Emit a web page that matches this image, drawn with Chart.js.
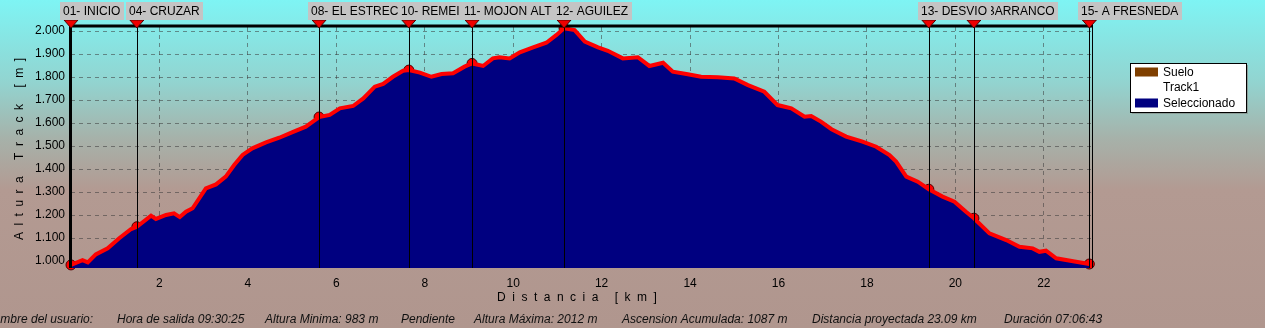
<!DOCTYPE html>
<html>
<head>
<meta charset="utf-8">
<script src="https://cdn.jsdelivr.net/npm/chart.js@4.4.1/dist/chart.umd.min.js"></script>
<style>
html, body { margin: 0; padding: 0; overflow: hidden; background: #b0968e; }
canvas { display: block; }
</style>
</head>
<body>
<canvas id="perfil" width="1265" height="328"></canvas>
<script>
// Track profile: distance (km) and altitude (m)
const distKm = [0.00, 0.26, 0.38, 0.56, 0.83, 1.09, 1.36, 1.49, 1.81, 1.92, 2.15, 2.33, 2.46, 2.60, 2.75,
    3.05, 3.28, 3.50, 3.69, 3.88, 4.10, 4.41, 4.71, 5.01, 5.31, 5.61, 5.85, 6.08, 6.38, 6.61, 6.87, 7.06,
    7.28, 7.51, 7.64, 7.89, 8.15, 8.38, 8.64, 8.90, 9.07, 9.32, 9.54, 9.69, 9.92, 10.15, 10.45, 10.75,
    10.98, 11.15, 11.39, 11.62, 11.92, 12.14, 12.48, 12.82, 13.08, 13.39, 13.61, 13.95, 14.25, 14.63,
    15.00, 15.31, 15.68, 15.98, 16.29, 16.59, 16.74, 16.96, 17.20, 17.53, 17.90, 18.21, 18.51, 18.66,
    18.89, 19.15, 19.40, 19.71, 19.98, 20.24, 20.42, 20.77, 21.15, 21.45, 21.75, 21.90, 22.05, 22.28,
    22.73, 23.03];
const altM = [983, 1004, 994, 1029, 1055, 1099, 1139, 1149, 1197, 1183, 1200, 1207, 1191, 1214, 1229,
    1316, 1333, 1367, 1417, 1461, 1490, 1516, 1536, 1560, 1584, 1626, 1635, 1664, 1674, 1707, 1758, 1770,
    1801, 1827, 1830, 1819, 1801, 1813, 1816, 1845, 1859, 1848, 1881, 1886, 1881, 1907, 1929, 1949,
    1983, 2012, 2004, 1954, 1929, 1914, 1881, 1886, 1848, 1862, 1823, 1812, 1801, 1799,
    1794, 1765, 1736, 1678, 1664, 1627, 1630, 1606, 1573, 1541, 1519, 1497, 1461, 1432,
    1367, 1345, 1312, 1280, 1258, 1214, 1186, 1120, 1091, 1062, 1055, 1040, 1045, 1012,
    997, 987];

// Waypoints
const wpNames = ['01- INICIO', '04- CRUZAR', '08- EL ESTREC', '10- REMEI', '11- MOJON ALT', '12- AGUILEZ',
    '13- DESVIO', '14- BARRANCO', '15- A FRESNEDA'];
const wpKm = [0.00, 1.49, 5.61, 7.64, 9.07, 11.15, 19.40, 20.42, 23.03];
const wpAlt = [983, 1149, 1626, 1830, 1859, 2012, 1312, 1186, 987];

// Axes
const yTicks = [1000, 1100, 1200, 1300, 1400, 1500, 1600, 1700, 1800, 1900, 2000];
const xTicks = [2, 4, 6, 8, 10, 12, 14, 16, 18, 20, 22];
const xTitle = 'Distancia [km]';
const yTitle = 'Altura Track [m]';

// Legend
const legendLabels = ['Suelo', 'Track1', 'Seleccionado'];
const legendColors = ['#7f3f00', null, '#000080'];

// Footer summary
const footerParts = ['Nombre del usuario:', 'Hora de salida 09:30:25', 'Altura Minima: 983 m', 'Pendiente',
    'Altura Máxima: 2012 m', 'Ascension Acumulada: 1087 m', 'Distancia proyectada 23.09 km', 'Duración 07:06:43'];
const footerX = [-15, 117, 265, 401, 474, 622, 812, 1004];

const FONT = '"Liberation Sans", Arial, sans-serif';
const labelOrder = [0, 1, 2, 3, 4, 5, 7, 6, 8];

function spacedText(ctx, text, cx, cy, gap) {
    let w = 0;
    for (const ch of text) w += ctx.measureText(ch).width + gap;
    w -= gap;
    let x = cx - w / 2;
    for (const ch of text) {
        ctx.fillText(ch, x, cy);
        x += ctx.measureText(ch).width + gap;
    }
}

const decor = {
    id: 'decor',
    beforeDraw(chart) {
        const { ctx, width, height } = chart;
        const g = ctx.createLinearGradient(0, 0, 0, height);
        g.addColorStop(0, '#7ef4f4');
        g.addColorStop(0.25, '#92d4d0');
        g.addColorStop(0.42, '#a6b2aa');
        g.addColorStop(0.58, '#b39a92');
        g.addColorStop(1, '#b0968e');
        ctx.save();
        ctx.fillStyle = g;
        ctx.fillRect(0, 0, width, height);
        ctx.restore();
    },
    afterDatasetDraw(chart, args) {
        if (args.index !== 0) return;
        const { ctx, chartArea: a, scales: { x } } = chart;
        ctx.save();
        ctx.strokeStyle = '#000';
        ctx.lineWidth = 1;
        wpKm.forEach(k => {
            const px = Math.round(x.getPixelForValue(k)) + 0.5;
            ctx.beginPath();
            ctx.moveTo(px, a.top);
            ctx.lineTo(px, a.bottom);
            ctx.stroke();
        });
        ctx.restore();
    },
    afterDraw(chart) {
        const { ctx, chartArea: a, scales: { x } } = chart;
        ctx.save();

        // frame: thick left and top, thin right
        ctx.strokeStyle = '#000';
        ctx.lineWidth = 3;
        ctx.beginPath();
        ctx.moveTo(a.left - 0.5, a.bottom);
        ctx.lineTo(a.left - 0.5, a.top - 1);
        ctx.lineTo(a.right + 1, a.top - 1);
        ctx.stroke();
        ctx.lineWidth = 1;
        ctx.beginPath();
        ctx.moveTo(a.right + 0.5, a.top);
        ctx.lineTo(a.right + 0.5, a.bottom);
        ctx.stroke();

        // waypoint triangles
        wpKm.forEach(k => {
            const px = x.getPixelForValue(k);
            ctx.beginPath();
            ctx.moveTo(px - 7, 20);
            ctx.lineTo(px + 7, 20);
            ctx.lineTo(px, 28);
            ctx.closePath();
            ctx.fillStyle = '#ee0000';
            ctx.fill();
            ctx.strokeStyle = '#500000';
            ctx.stroke();
        });

        // waypoint labels
        ctx.font = '12px ' + FONT;
        ctx.textBaseline = 'middle';
        ctx.textAlign = 'left';
        labelOrder.forEach(i => {
            const left = Math.round(x.getPixelForValue(wpKm[i])) - 11;
            const w = Math.ceil(ctx.measureText(wpNames[i]).width) + 6;
            ctx.fillStyle = '#c4c4c4';
            ctx.fillRect(left, 2, w, 18);
            ctx.fillStyle = '#000';
            ctx.fillText(wpNames[i], left + 3, 11.5);
        });

        // legend
        const lx = 1130, ly = 63, lw = 116, lh = 49;
        ctx.fillStyle = '#8c9e98';
        ctx.fillRect(lx + 2, ly + 2, lw, lh);
        ctx.fillStyle = '#fff';
        ctx.fillRect(lx, ly, lw, lh);
        ctx.strokeStyle = '#000';
        ctx.strokeRect(lx + 0.5, ly + 0.5, lw, lh);
        legendLabels.forEach((lab, i) => {
            const cy = ly + 9 + i * 15.5;
            if (legendColors[i]) {
                ctx.fillStyle = legendColors[i];
                ctx.fillRect(lx + 5, cy - 4.5, 23, 9);
            }
            ctx.fillStyle = '#000';
            ctx.fillText(lab, lx + 33, cy + 0.5);
        });

        // axis titles
        ctx.fillStyle = '#000';
        ctx.font = '12px ' + FONT;
        spacedText(ctx, xTitle, 577, 298, 6.5);
        ctx.save();
        ctx.translate(20, 149);
        ctx.rotate(-Math.PI / 2);
        spacedText(ctx, yTitle, 0, 0, 6.5);
        ctx.restore();

        // footer
        ctx.font = 'italic 12px ' + FONT;
        ctx.fillStyle = '#111';
        footerParts.forEach((t, i) => ctx.fillText(t, footerX[i], 320));

        ctx.restore();
    }
};

const fmtThousands = v => Math.floor(v / 1000) + '.' + String(v % 1000).padStart(3, '0');

new Chart(document.getElementById('perfil'), {
    type: 'line',
    data: {
        datasets: [{
            label: 'Track1',
            data: distKm.map((d, i) => ({ x: d, y: altM[i] })),
            borderColor: '#ff0000',
            borderWidth: 4,
            backgroundColor: '#000080',
            fill: 'start',
            pointRadius: 0,
            tension: 0,
        }, {
            label: 'Waypoints',
            data: wpKm.map((d, i) => ({ x: d, y: wpAlt[i] })),
            showLine: false,
            pointRadius: 5,
            pointBackgroundColor: '#ff0000',
            pointBorderColor: '#500000',
            pointBorderWidth: 1,
            clip: false,
        }]
    },
    options: {
        responsive: false,
        animation: false,
        devicePixelRatio: 1,
        layout: { padding: { left: 0, top: 27, right: 173, bottom: 0 } },
        plugins: { legend: { display: false }, tooltip: { enabled: false } },
        scales: {
            x: {
                type: 'linear',
                min: 0,
                max: 23.09,
                afterBuildTicks: s => { s.ticks = xTicks.map(v => ({ value: v })); },
                afterFit: s => { s.height = 60; },
                grid: { color: 'rgba(60,60,60,0.55)', drawTicks: false },
                border: { display: false, dash: [4, 4] },
                ticks: {
                    autoSkip: false,
                    maxRotation: 0,
                    padding: 8,
                    color: '#000',
                    font: { family: FONT, size: 12 },
                },
            },
            y: {
                min: 969.6,
                max: 2017.4,
                afterBuildTicks: s => { s.ticks = yTicks.map(v => ({ value: v })); },
                afterFit: s => { s.width = 71; },
                grid: { color: 'rgba(60,60,60,0.55)', drawTicks: false },
                border: { display: false, dash: [4, 4] },
                ticks: {
                    padding: 6,
                    color: '#000',
                    font: { family: FONT, size: 12 },
                    callback: v => fmtThousands(v),
                },
            }
        }
    },
    plugins: [decor]
});
</script>
</body>
</html>
